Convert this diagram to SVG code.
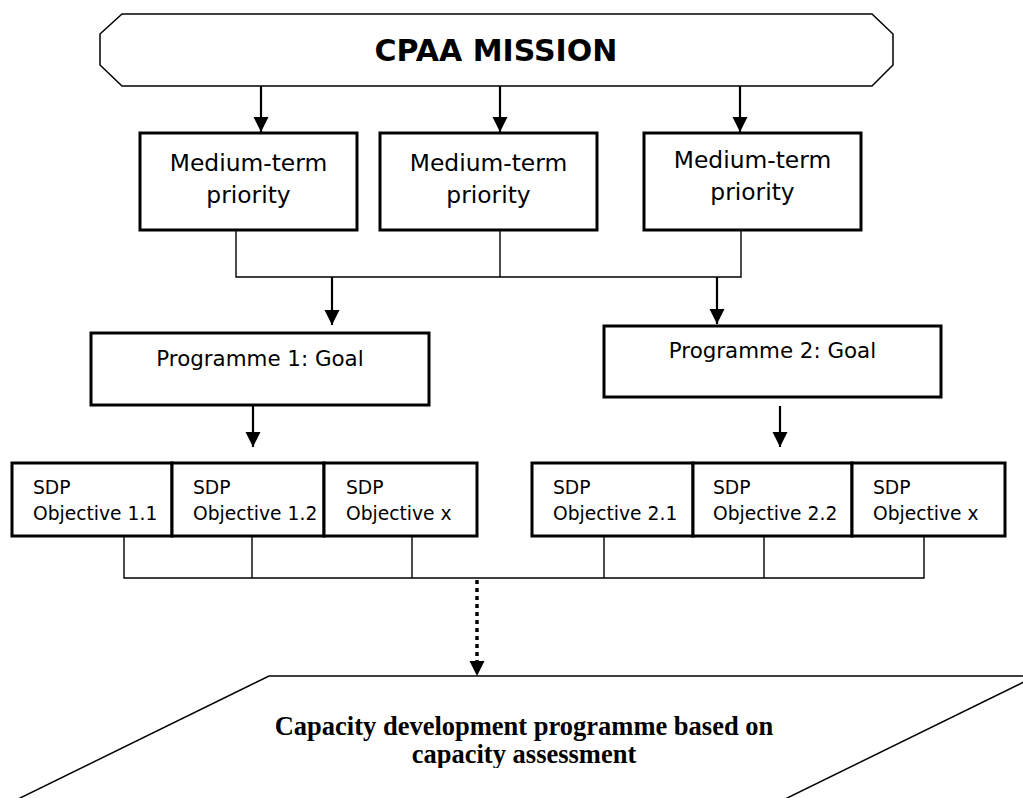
<svg xmlns="http://www.w3.org/2000/svg" width="1023" height="798" viewBox="0 0 1023 798">
<style>
.box{fill:#fff;stroke:#000;stroke-width:3}
.thin{fill:none;stroke:#000;stroke-width:1.4}
.arr{fill:none;stroke:#000;stroke-width:2.2}
.t{font-family:"DejaVu Sans",Verdana,sans-serif;fill:#000}
.mt{font-size:23.4px;text-anchor:middle}
.pg{font-size:21.4px;text-anchor:middle}
.ob{font-size:18.7px}
.title{font-family:"DejaVu Sans",Verdana,sans-serif;font-weight:bold;font-size:30px;text-anchor:middle}
.cap{font-family:"Liberation Serif","Times New Roman",serif;font-weight:bold;font-size:26.5px;text-anchor:middle}
</style>
<defs>
<marker id="ah" viewBox="0 0 10 10" refX="10" refY="5" markerWidth="7" markerHeight="7" markerUnits="strokeWidth" orient="auto">
<path d="M0,0 L10,5 L0,10 Z" fill="#000"/>
</marker>
<clipPath id="capclip"><rect x="0" y="690" width="1023" height="78"/></clipPath>
</defs>
<rect width="1023" height="798" fill="#fff"/>

<g id="mission">
<polygon points="122,14 872,14 893,34 893,65 872,86 122,86 100,65 100,34" fill="#fff" stroke="#000" stroke-width="1.5"/>
<text class="title" x="496" y="61">CPAA MISSION</text>
</g>

<g id="mt1">
<rect class="box" x="140" y="133" width="217" height="97"/>
<text class="t mt" x="248.5" y="171">Medium-term</text>
<text class="t mt" x="248.5" y="203">priority</text>
</g>
<g id="mt2">
<rect class="box" x="380" y="133" width="217" height="97"/>
<text class="t mt" x="488.5" y="171">Medium-term</text>
<text class="t mt" x="488.5" y="203">priority</text>
</g>
<g id="mt3">
<rect class="box" x="644" y="133" width="217" height="97"/>
<text class="t mt" x="752.5" y="168">Medium-term</text>
<text class="t mt" x="752.5" y="200">priority</text>
</g>

<g id="prog1">
<rect class="box" x="91" y="333" width="338" height="72"/>
<text class="t pg" x="260" y="366">Programme 1: Goal</text>
</g>
<g id="prog2">
<rect class="box" x="604" y="326" width="337" height="71"/>
<text class="t pg" x="772.5" y="358">Programme 2: Goal</text>
</g>

<g id="obj11">
<rect class="box" x="12" y="463" width="160" height="73"/>
<text class="t ob" x="33" y="494">SDP</text>
<text class="t ob" x="33" y="520">Objective 1.1</text>
</g>
<g id="obj12">
<rect class="box" x="172" y="463" width="152" height="73"/>
<text class="t ob" x="193" y="494">SDP</text>
<text class="t ob" x="193" y="520">Objective 1.2</text>
</g>
<g id="obj1x">
<rect class="box" x="324" y="463" width="153" height="73"/>
<text class="t ob" x="346" y="494">SDP</text>
<text class="t ob" x="346" y="520">Objective x</text>
</g>
<g id="obj21">
<rect class="box" x="532" y="463" width="161" height="73"/>
<text class="t ob" x="553" y="494">SDP</text>
<text class="t ob" x="553" y="520">Objective 2.1</text>
</g>
<g id="obj22">
<rect class="box" x="693" y="463" width="159" height="73"/>
<text class="t ob" x="713" y="494">SDP</text>
<text class="t ob" x="713" y="520">Objective 2.2</text>
</g>
<g id="obj2x">
<rect class="box" x="852" y="463" width="153" height="73"/>
<text class="t ob" x="873" y="494">SDP</text>
<text class="t ob" x="873" y="520">Objective x</text>
</g>

<g id="cdp">
<polyline points="12,802 269,676 1040,676" fill="none" stroke="#000" stroke-width="1.5"/>
<line x1="1035" y1="676.5" x2="779" y2="802" stroke="#000" stroke-width="1.5"/>
<g clip-path="url(#capclip)">
<text class="cap" x="524" y="735">Capacity development programme based on</text>
<text class="cap" x="524" y="763">capacity assessment</text>
</g>
</g>

<g id="connectors">
<line class="arr" x1="261" y1="86" x2="261" y2="132" marker-end="url(#ah)"/>
<line class="arr" x1="500" y1="86" x2="500" y2="132" marker-end="url(#ah)"/>
<line class="arr" x1="740" y1="86" x2="740" y2="132" marker-end="url(#ah)"/>
<polyline class="thin" points="236,230 236,277 741,277 741,230"/>
<line class="thin" x1="500" y1="230" x2="500" y2="277"/>
<line class="arr" x1="332" y1="277" x2="332" y2="325" marker-end="url(#ah)"/>
<line class="arr" x1="717" y1="277" x2="717" y2="324" marker-end="url(#ah)"/>
<line class="arr" x1="253" y1="405" x2="253" y2="447" marker-end="url(#ah)"/>
<line class="arr" x1="780" y1="406" x2="780" y2="447" marker-end="url(#ah)"/>
<polyline class="thin" points="124,536 124,578 924,578 924,536"/>
<line class="thin" x1="252" y1="536" x2="252" y2="578"/>
<line class="thin" x1="412" y1="536" x2="412" y2="578"/>
<line class="thin" x1="604" y1="536" x2="604" y2="578"/>
<line class="thin" x1="764" y1="536" x2="764" y2="578"/>
<line x1="477" y1="580" x2="477" y2="662" stroke="#000" stroke-width="3.5" stroke-dasharray="4,4"/>
<path d="M469.5,661 L484.5,661 L477,676 Z" fill="#000"/>
</g>
</svg>
